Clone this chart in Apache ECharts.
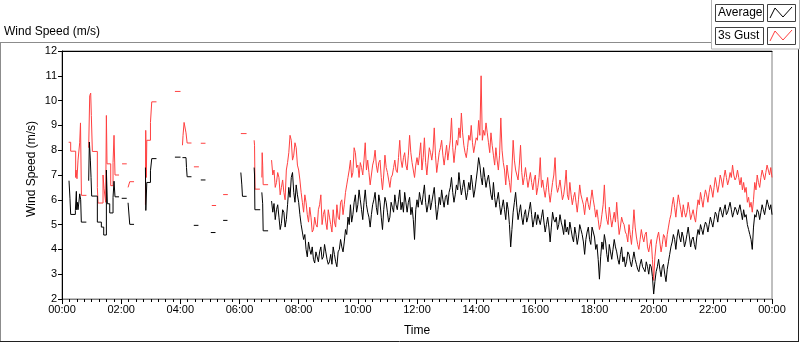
<!DOCTYPE html>
<html>
<head>
<meta charset="utf-8">
<script src="https://cdn.jsdelivr.net/npm/echarts@6/dist/echarts.min.js"></script>
<style>
    *{ margin:0; padding:0; }
    body{ background:#fff; }
    #chart{ width:800px; height:342px; }
</style>
</head>
<body>
<div id="chart"></div>
<script>
// x values are minutes after midnight, y values are m/s
const timeLabels = ['00:00','02:00','04:00','06:00','08:00','10:00','12:00','14:00','16:00','18:00','20:00','22:00','00:00'];
const yTicks = [2,3,4,5,6,7,8,9,10,11,12];

// night part: short logged pieces with gaps between them
const avgPieces = [
    [[14.2,6.77],[16.2,6.04],[17.6,5.41],[27.1,5.57],[29.1,6.34],[29.8,5.6],[31.1,5.9],[32.5,5.6],[34.5,5.95],[35.9,6.24],[37.9,6.0],[39.2,5.1],[49.4,5.1]],
    [[54.1,6.77],[55.5,8.33],[57.5,7.6],[58.9,6.9],[60.2,6.15],[71.7,5.1],[79.8,4.9],[84.6,4.58],[90,7.2],[92,5.84],[96.8,5.47],[103.5,6.1],[105.5,6.75],[107.5,6.12],[115.7,6.12]],
    [[121.1,6.06],[131.3,6.06]],
    [[134,5.88],[137.4,5.01],[146.1,5.01]],
    [[169.2,7.3],[170,5.57],[172,6.7],[179.4,7.17],[182,7.66],[191.6,7.66]],
    [[229,7.72],[240.4,7.72]],
    [[244.3,7.7],[251.5,7.7],[252.5,7.3],[253.8,6.93],[262.6,6.93]],
    [[267.3,4.97],[276.7,4.97]],
    [[281.5,6.8],[291,6.8]],
    [[301.8,4.68],[311.3,4.68]],
    [[326.8,5.17],[335.6,5.17]],
    [[362.7,7.1],[364.7,6.6],[366,6.14],[374.5,6.14]],
    [[389.7,7.3],[390.5,7.0],[391.2,5.6],[401.9,5.6]],
    [[405.3,6.3],[407,5.84],[408,4.75],[418,4.75]]
];
const gustPieces = [
    [[13.5,8.32],[17.6,7.96],[27.7,6.9],[28.4,7.2],[30.4,6.85],[32.5,7.6],[35.9,8.3],[37.5,9.1],[39.4,6.18],[49.5,6.18]],
    [[54.1,8.1],[56.2,10.2],[58.2,10.3],[59.5,9.4],[61.6,7.95],[71.7,6.5],[73.1,5.87],[83.2,7.0],[85.3,6.45],[88.6,5.9],[90,9.4],[91.3,7.45],[98.8,6.57],[103.5,7.5],[105.5,8.6],[107.5,7.0],[115.7,7.0]],
    [[121.8,7.45],[131.3,7.45]],
    [[134,6.5],[137.4,6.73],[146.1,6.73]],
    [[169.2,5.8],[169.8,8.8],[171,6.9],[172,8.4],[179.4,9.12],[182,9.95],[191.6,9.95]],
    [[229,10.37],[240.4,10.37]],
    [[244.3,8.2],[245.5,8.6],[247.6,9.12],[251.5,8.7],[253.8,8.29],[262.6,8.29]],
    [[267.5,7.33],[277.6,7.33]],
    [[281.5,8.28],[291,8.28]],
    [[303.8,5.77],[312.5,5.77]],
    [[326.8,6.21],[336.3,6.21]],
    [[362.7,8.67],[374.3,8.67]],
    [[389.7,8.4],[390.5,8.2],[391.5,6.43],[401.3,6.43]],
    [[405.3,6.9],[406,7.9],[407,7.4],[408,6.61],[418,6.61]]
];

// continuous logging from 07:05, one value every 2.5 minutes (one row per hour)
const denseStart = 425;
const denseStep = 2.5;
const avgDense = [
    5.95,5.5,5.85,5.2,5.6,5.8,5.3,4.8,5.05,5.6,5.5,4.9,5.2,5.8,6.5,6.1,6.9,7.1,6.3,5.9,6.6,6.2,5.9,
    5.4,5.0,4.7,4.4,4.6,4.0,3.7,4.3,4.0,3.8,4.1,3.6,3.45,3.9,3.7,3.5,3.9,4.1,3.6,3.7,4.2,3.9,3.6,3.4,
    3.5,3.8,3.4,4.1,3.8,3.5,3.3,3.9,4.0,4.4,4.1,3.9,4.3,4.8,4.6,5.3,5.0,5.8,5.1,5.4,5.9,6.2,5.5,5.8,
    6.4,6.0,5.6,5.2,5.9,6.4,5.8,5.5,5.3,4.9,5.4,5.8,6.0,6.3,5.7,5.4,6.2,5.9,5.3,4.8,5.6,6.1,5.9,5.5,
    5.1,5.3,5.9,5.7,5.5,6.2,5.8,5.6,6.0,6.4,5.6,5.9,5.5,6.3,5.9,5.5,5.9,6.1,5.4,5.7,5.2,4.4,5.6,6.0,
    5.7,6.3,6.0,5.8,6.2,6.6,5.9,5.5,5.8,6.2,5.6,5.9,6.2,6.5,5.8,5.2,5.6,6.1,5.8,6.4,6.0,5.7,6.1,6.2,
    5.8,6.3,6.5,6.9,6.3,5.9,6.2,6.6,6.4,7.1,6.6,6.2,6.5,6.8,6.4,6.0,6.3,6.7,6.4,7.0,6.6,6.1,6.4,6.8,
    7.2,7.7,7.4,6.9,6.6,7.3,6.9,6.5,6.8,7.0,6.6,6.2,6.0,6.7,6.1,5.7,6.0,6.3,5.8,5.4,5.7,6.0,5.6,5.2,
    5.9,5.6,5.0,4.1,4.8,5.5,5.9,6.3,5.7,5.2,5.5,5.8,5.3,5.0,5.4,5.6,5.1,5.3,5.6,5.9,5.4,4.9,5.2,5.5,
    5.0,5.4,5.2,5.0,5.3,5.6,5.1,4.7,5.0,5.3,4.9,4.3,4.9,5.5,5.2,5.1,5.3,4.8,5.0,5.4,5.1,4.9,4.6,5.2,
    4.7,4.9,4.6,5.1,4.8,4.5,4.3,4.9,4.6,4.2,4.5,5.0,4.8,4.6,4.3,3.8,4.4,4.7,4.9,4.4,4.2,4.9,4.7,4.5,
    4.0,4.2,3.6,2.8,3.7,4.3,4.0,4.6,4.3,3.8,3.5,4.2,3.9,3.6,4.0,4.4,4.1,3.9,3.6,3.4,3.8,4.1,3.5,3.7,
    3.3,3.5,3.9,3.8,3.5,3.3,3.6,3.9,3.6,3.4,3.2,3.1,3.4,3.6,3.3,3.2,3.1,3.5,3.3,3.0,3.4,3.3,2.9,2.2,
    2.7,3.1,3.3,3.6,3.2,2.9,3.3,3.4,3.0,2.7,3.2,3.5,3.8,4.1,4.3,4.6,4.4,4.0,4.5,4.8,4.5,4.3,4.7,4.5,
    4.1,4.3,4.6,4.9,4.5,4.1,4.4,4.5,4.2,4.0,4.5,4.8,4.6,5.0,4.8,4.6,4.9,5.1,5.0,4.7,5.0,5.3,5.1,4.9,
    5.2,5.5,5.4,5.1,5.5,5.7,5.5,5.3,5.6,5.8,5.4,5.5,5.7,5.9,5.6,5.3,5.5,5.7,5.6,5.4,5.6,5.8,5.5,5.2,
    5.6,5.3,5.4,5.0,4.8,4.6,4.4,4.0,4.9,5.4,5.3,5.6,5.5,5.2,5.5,5.8,5.6,5.4,5.7,6.0,5.8,5.6,5.8,5.4
];
const gustDense = [
    7.6,7.0,7.2,6.5,6.7,7.1,6.9,6.2,6.5,6.8,6.3,6.0,7.2,7.5,7.9,8.6,8.4,7.6,7.8,8.3,8.1,7.4,7.2,
    6.8,6.3,5.9,5.5,6.2,5.9,5.4,5.1,5.7,5.3,4.7,4.8,5.3,5.0,4.9,5.6,5.8,6.2,5.0,5.4,5.6,5.1,4.8,5.6,
    5.3,5.0,4.7,5.6,5.1,4.9,5.8,5.3,5.2,5.9,6.0,5.4,5.8,6.3,6.6,6.9,7.2,7.6,6.9,7.1,8.1,7.9,7.3,7.4,
    6.9,7.5,7.3,7.0,7.6,8.3,7.2,7.6,7.1,6.6,7.0,7.4,7.6,8.0,7.4,7.1,7.5,7.6,6.9,6.4,7.0,7.8,7.3,7.1,
    6.8,6.5,6.9,7.0,7.3,7.6,7.2,7.1,7.7,8.4,7.6,7.3,7.7,7.9,7.4,7.2,7.8,8.6,7.9,7.5,7.2,6.9,7.4,7.7,
    7.4,7.8,8.3,7.2,7.7,8.5,7.5,7.0,7.6,8.1,7.9,7.6,8.0,8.9,7.8,7.1,7.5,7.9,8.1,8.4,7.8,7.4,7.8,8.2,
    7.6,8.0,8.4,9.3,8.1,7.5,8.0,8.4,8.2,8.9,8.5,9.5,8.7,8.2,7.9,7.7,8.1,8.6,8.4,9.0,8.3,7.9,8.2,8.5,
    8.4,9.2,8.6,11.0,8.4,8.8,8.6,9.1,8.7,8.3,7.9,8.7,8.2,7.8,7.4,8.1,7.6,7.2,7.8,9.3,8.0,7.5,7.2,6.6,
    7.4,7.0,6.7,6.3,7.2,8.4,7.6,7.2,7.0,6.8,7.4,8.2,7.1,6.6,6.9,7.3,6.9,6.5,6.8,7.1,6.7,6.4,6.8,7.0,
    6.2,6.5,6.9,7.7,6.5,6.8,6.4,6.1,6.5,6.9,6.3,5.9,6.3,6.7,7.0,7.7,6.6,6.3,6.5,6.8,6.4,6.0,6.2,6.6,
    7.2,6.2,6.0,6.7,6.2,5.8,6.1,6.3,5.9,5.5,6.0,6.6,6.2,6.0,5.8,5.4,5.9,6.1,5.8,5.6,6.0,6.4,6.0,5.7,
    5.3,5.6,5.2,4.8,5.0,5.4,5.8,6.6,5.6,5.2,5.0,5.7,5.3,4.9,5.2,5.5,5.1,5.9,5.2,4.6,4.9,5.3,5.1,5.0,
    4.7,4.6,4.3,5.0,4.6,4.2,4.8,5.6,4.9,4.5,4.2,4.0,4.4,4.8,4.5,4.3,4.6,4.7,4.1,3.9,4.2,4.4,3.6,2.75,
    3.7,4.2,4.5,4.7,4.3,3.9,4.2,4.6,4.5,4.1,4.6,4.9,5.2,5.4,5.8,6.1,5.7,5.3,5.8,6.2,5.9,5.6,5.3,5.8,
    5.5,5.3,5.5,5.9,5.6,5.2,5.4,5.6,5.3,5.1,5.6,6.0,5.8,6.3,6.0,5.7,6.1,6.4,6.2,5.9,6.3,6.6,6.4,6.1,
    6.5,6.9,6.6,6.3,6.6,7.0,6.8,6.5,6.9,7.2,6.9,6.6,6.8,7.1,6.9,7.4,7.0,6.8,6.9,7.2,6.9,6.6,6.9,6.4,
    6.7,6.3,6.5,5.9,6.1,5.7,5.9,5.5,6.0,6.7,6.4,7.0,6.7,6.5,6.9,7.2,7.0,6.8,7.1,7.4,7.2,7.0,7.3,6.9
];

const FONT = 'Liberation Sans';
const AVG_COLOR = '#000000';
const GUST_COLOR = '#ff4040';

function denseSeries(vals){
    return vals.map(function(v, i){ return [denseStart + i*denseStep, v]; });
}
function lineSeries(name, data, color, step){
    return {
        name: name, type: 'line', data: data, step: step,
        showSymbol: false, animation: false, silent: true,
        lineStyle: { color: color, width: 1 }, itemStyle: { color: color }
    };
}

let series = [];
// each logged piece is its own stepped line so the gaps stay open
gustPieces.forEach(function(p){ series.push(lineSeries('3s Gust', p, GUST_COLOR, 'end')); });
series.push(lineSeries('3s Gust', denseSeries(gustDense), GUST_COLOR, false));
avgPieces.forEach(function(p){ series.push(lineSeries('Average', p, AVG_COLOR, 'end')); });
series.push(lineSeries('Average', denseSeries(avgDense), AVG_COLOR, false));

let myChart = echarts.init(document.getElementById('chart'), null, { renderer: 'canvas' });
let option = {
    animation: false,
    backgroundColor: '#fff',
    textStyle: { fontFamily: FONT },
    grid: {
        left: 62, top: 51, right: 28, bottom: 39,
        show: true, borderColor: '#808080', borderWidth: 1, backgroundColor: '#fff'
    },
    xAxis: [
        {
            type: 'value', min: 0, max: 1440, interval: 120,
            axisLine: { show: true, lineStyle: { color: '#808080' } },
            axisTick: { show: true, length: 5, lineStyle: { color: '#000' } },
            minorTick: { show: true, splitNumber: 8, length: 3, lineStyle: { color: '#000' } },
            splitLine: { show: false },
            axisLabel: {
                fontFamily: FONT, fontSize: 11, color: '#000', margin: 5,
                formatter: function(v){ return timeLabels[Math.round(v/120)]; }
            },
            name: 'Time', nameLocation: 'middle', nameGap: 26,
            nameTextStyle: { fontFamily: FONT, fontSize: 12, color: '#000' }
        },
        {
            type: 'value', position: 'top', min: 0, max: 1440,
            axisLine: { show: true, lineStyle: { color: '#000' } },
            axisTick: { show: false }, axisLabel: { show: false }, splitLine: { show: false }
        }
    ],
    yAxis: {
        type: 'value', min: yTicks[0], max: yTicks[yTicks.length-1], interval: 1,
        axisLine: { show: true, lineStyle: { color: '#000' } },
        axisTick: { show: true, length: 4, lineStyle: { color: '#000' } },
        splitLine: { show: false },
        axisLabel: { fontFamily: FONT, fontSize: 11, color: '#000', margin: 5 }
    },
    graphic: [
        { type: 'text', left: 4, top: 26, style: { text: 'Wind Speed (m/s)', font: '12px "Liberation Sans"', fill: '#000' } },
        { type: 'line', shape: { x1: 0, y1: 42.5, x2: 712, y2: 42.5 }, style: { stroke: '#8c8c8c', lineWidth: 1 } },
        { type: 'line', shape: { x1: 0.5, y1: 42, x2: 0.5, y2: 342 }, style: { stroke: '#8c8c8c', lineWidth: 1 } },
        { type: 'line', shape: { x1: 0, y1: 341.5, x2: 799, y2: 341.5 }, style: { stroke: '#202020', lineWidth: 1 } },
        { type: 'line', shape: { x1: 798.5, y1: 49, x2: 798.5, y2: 342 }, style: { stroke: '#202020', lineWidth: 1 } },
        // legend panel
        { type: 'rect', shape: { x: 711.5, y: -1, width: 88, height: 50 }, style: { fill: '#fff', stroke: '#b4b4b4', lineWidth: 1 } },
        { type: 'rect', shape: { x: 715.5, y: 4.5, width: 48, height: 17 }, style: { fill: '#fff', stroke: '#404040', lineWidth: 1 } },
        { type: 'text', x: 718, y: 13, style: { text: 'Average', font: '12px "Liberation Sans"', fill: '#000', verticalAlign: 'middle' } },
        { type: 'rect', shape: { x: 767.5, y: 4.5, width: 28, height: 17 }, style: { fill: '#fff', stroke: '#404040', lineWidth: 1 } },
        { type: 'polyline', shape: { points: [[770,18],[775,8],[783,17],[792,7]] }, style: { stroke: AVG_COLOR, lineWidth: 1, fill: null } },
        { type: 'rect', shape: { x: 715.5, y: 27.5, width: 48, height: 17 }, style: { fill: '#fff', stroke: '#404040', lineWidth: 1 } },
        { type: 'text', x: 718, y: 36, style: { text: '3s Gust', font: '12px "Liberation Sans"', fill: '#000', verticalAlign: 'middle' } },
        { type: 'rect', shape: { x: 767.5, y: 27.5, width: 28, height: 17 }, style: { fill: '#fff', stroke: '#404040', lineWidth: 1 } },
        { type: 'polyline', shape: { points: [[770,41],[775,31],[783,40],[792,30]] }, style: { stroke: GUST_COLOR, lineWidth: 1, fill: null } },
        // rotated y axis title
        { type: 'text', x: 32, y: 169, rotation: Math.PI/2,
          style: { text: 'Wind Speed (m/s)', font: '12px "Liberation Sans"', fill: '#000', align: 'center', verticalAlign: 'middle' } }
    ],
    series: series
};
myChart.setOption(option);
</script>
</body>
</html>
